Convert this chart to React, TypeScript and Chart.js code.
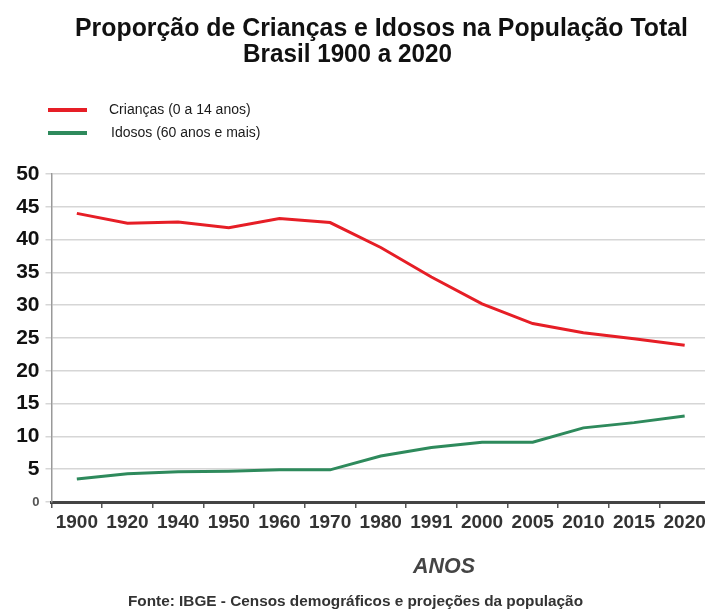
import React, { useEffect, useRef } from "react";
import { Chart, registerables } from "chart.js";

Chart.register(...registerables);

const anos = ["1900", "1920", "1940", "1950", "1960", "1970", "1980", "1991", "2000", "2005", "2010", "2015", "2020"];
const criancas = [44.0, 42.5, 42.7, 41.8, 43.2, 42.6, 38.8, 34.3, 30.2, 27.2, 25.8, 24.9, 23.9];
const idosos = [3.5, 4.3, 4.6, 4.7, 4.9, 4.9, 7.0, 8.3, 9.1, 9.1, 11.3, 12.1, 13.1];

const titulo1 = "Proporção de Crianças e Idosos na População Total";
const titulo2 = "Brasil 1900 a 2020";
const legenda1 = "Crianças (0 a 14 anos)";
const legenda2 = "Idosos (60 anos e mais)";
const eixoX = "ANOS";
const fonte = "Fonte: IBGE - Censos demográficos e projeções da população";

const RED = "#e61e26";
const GREEN = "#2e8a5c";

function fitText(ctx: CanvasRenderingContext2D, text: string, x: number, y: number, w: number, font: string, color: string) {
  ctx.save();
  ctx.font = font;
  ctx.fillStyle = color;
  ctx.textBaseline = "alphabetic";
  ctx.textAlign = "left";
  const m = ctx.measureText(text).width;
  ctx.translate(x, y);
  ctx.scale(w / m, 1);
  ctx.fillText(text, 0, 0);
  ctx.restore();
}

const decorPlugin = {
  id: "decor",
  afterDraw(chart: any) {
    const ctx = chart.ctx as CanvasRenderingContext2D;
    fitText(ctx, titulo1, 75, 36, 613, "bold 26px Arial, 'Liberation Sans', sans-serif", "#111");
    fitText(ctx, titulo2, 243, 62, 209, "bold 26px Arial, 'Liberation Sans', sans-serif", "#111");

    ctx.save();
    ctx.lineWidth = 4;
    ctx.strokeStyle = RED;
    ctx.beginPath();
    ctx.moveTo(48, 110);
    ctx.lineTo(87, 110);
    ctx.stroke();
    ctx.strokeStyle = GREEN;
    ctx.beginPath();
    ctx.moveTo(48, 133);
    ctx.lineTo(87, 133);
    ctx.stroke();
    ctx.fillStyle = "#1a1a1a";
    ctx.font = "14px Arial, 'Liberation Sans', sans-serif";
    ctx.textBaseline = "middle";
    ctx.fillText(legenda1, 109, 110);
    ctx.fillText(legenda2, 111, 133);
    ctx.restore();

    fitText(ctx, eixoX, 413, 573, 62, "italic bold 22px Arial, 'Liberation Sans', sans-serif", "#444");
    fitText(ctx, fonte, 128, 606, 455, "bold 14px Arial, 'Liberation Sans', sans-serif", "#333");
  },
};

export default function App() {
  const ref = useRef<HTMLCanvasElement | null>(null);
  useEffect(() => {
    document.body.style.margin = "0";
    document.body.style.overflow = "hidden";
    document.documentElement.style.overflow = "hidden";
    const chart = new Chart(ref.current as HTMLCanvasElement, {
      type: "line",
      data: {
        labels: anos,
        datasets: [
          { label: legenda1, data: criancas, borderColor: RED, borderWidth: 3, pointRadius: 0, tension: 0 },
          { label: legenda2, data: idosos, borderColor: GREEN, borderWidth: 3, pointRadius: 0, tension: 0 },
        ],
      },
      options: {
        animation: false,
        responsive: false,
        maintainAspectRatio: false,
        layout: { padding: { top: 174, right: 0, bottom: 0, left: 0 } },
        plugins: { legend: { display: false }, title: { display: false }, tooltip: { enabled: false } },
        scales: {
          x: {
            type: "category",
            offset: true,
            afterFit: (s: any) => { s.height = 107; },
            grid: { offset: true, drawOnChartArea: false, drawTicks: true, tickLength: 6, color: "#555", lineWidth: 1.5 },
            border: { color: "#444", width: 3 },
            ticks: {
              autoSkip: false,
              maxRotation: 0,
              padding: 3,
              color: "#333",
              font: { family: "Arial, 'Liberation Sans', sans-serif", size: 19, weight: "bold" },
            },
          },
          y: {
            min: 0,
            max: 50,
            afterFit: (s: any) => { s.width = 51.5; },
            grid: { color: "#d6d6d6", lineWidth: 1.5, drawTicks: true, tickLength: 6 },
            border: { color: "#999", width: 1.5 },
            ticks: {
              stepSize: 5,
              padding: 6,
              color: (c: any) => (c.tick && c.tick.value === 0 ? "#555" : "#111"),
              font: (c: any) =>
                c.tick && c.tick.value === 0
                  ? { family: "Arial, 'Liberation Sans', sans-serif", size: 13, weight: "bold" }
                  : { family: "Arial, 'Liberation Sans', sans-serif", size: 21, weight: "bold" },
            },
          },
        },
      },
      plugins: [decorPlugin],
    } as any);
    return () => chart.destroy();
  }, []);
  return (
    <div style={{ width: 710, height: 609, overflow: "hidden" }}>
      <canvas ref={ref} width={710} height={609} style={{ display: "block" }} />
    </div>
  );
}
